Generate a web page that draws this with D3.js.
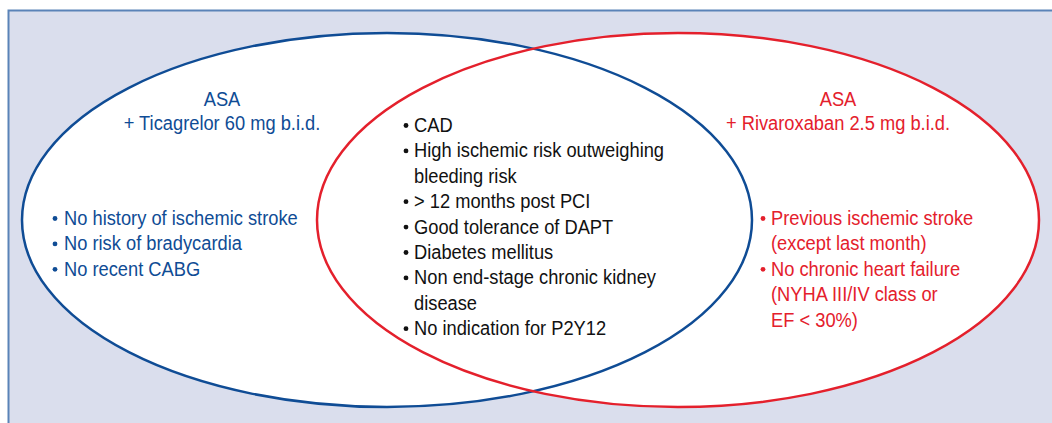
<!DOCTYPE html>
<html>
<head>
<meta charset="utf-8">
<script src="https://cdn.jsdelivr.net/npm/d3@7"></script>
<style>
  html, body { margin: 0; padding: 0; background: #fff; }
  svg text { font-family: "Liberation Sans", Arial, sans-serif; }
</style>
</head>
<body>
<div id="chart"></div>
<script>
// chart content
var leftTitle = ["ASA", "+ Ticagrelor 60 mg b.i.d."];
var rightTitle = ["ASA", "+ Rivaroxaban 2.5 mg b.i.d."];

var leftItems = [
  ["No history of ischemic stroke"],
  ["No risk of bradycardia"],
  ["No recent CABG"]
];

var centerItems = [
  ["CAD"],
  ["High ischemic risk outweighing", "bleeding risk"],
  ["> 12 months post PCI"],
  ["Good tolerance of DAPT"],
  ["Diabetes mellitus"],
  ["Non end-stage chronic kidney", "disease"],
  ["No indication for P2Y12"]
];

var rightItems = [
  ["Previous ischemic stroke", "(except last month)"],
  ["No chronic heart failure", "(NYHA III/IV class or", "EF < 30%)"]
];

var width = 1052, height = 423;
var blue = "#0f4c95", red = "#e4202c";
// no condensed face installed: squeeze the sans horizontally
var fontSize = 20, squeeze = 0.915, lineH = 25.4;

var svg = d3.select("#chart").append("svg")
    .attr("width", width)
    .attr("height", height);

// panel background
svg.append("rect")
    .attr("x", 8.5)
    .attr("y", 10.5)
    .attr("width", width + 20)
    .attr("height", height + 20)
    .attr("fill", "#dadeed")
    .attr("stroke", "#5a83b8")
    .attr("stroke-width", 2);

var sets = [
  {cx: 387, cy: 220, rx: 365, ry: 187, color: blue},
  {cx: 678, cy: 220, rx: 361, ry: 187, color: red}
];

// white fills first, outlines on top
svg.selectAll("ellipse.fill")
    .data(sets)
    .enter().append("ellipse")
    .attr("class", "fill")
    .attr("cx", function (d) { return d.cx; })
    .attr("cy", function (d) { return d.cy; })
    .attr("rx", function (d) { return d.rx; })
    .attr("ry", function (d) { return d.ry; })
    .attr("fill", "#fff");

svg.selectAll("ellipse.outline")
    .data(sets)
    .enter().append("ellipse")
    .attr("class", "outline")
    .attr("cx", function (d) { return d.cx; })
    .attr("cy", function (d) { return d.cy; })
    .attr("rx", function (d) { return d.rx; })
    .attr("ry", function (d) { return d.ry; })
    .attr("fill", "none")
    .attr("stroke", function (d) { return d.color; })
    .attr("stroke-width", 2.5);

function title(lines, x, y, color) {
  svg.append("g").selectAll("text")
      .data(lines)
      .enter().append("text")
      .attr("transform", function (d, i) {
        return "translate(" + x + "," + (y + i * 24) + ") scale(" + squeeze + ",1)";
      })
      .attr("text-anchor", "middle")
      .attr("fill", color)
      .style("font-size", fontSize + "px")
      .text(function (d) { return d; });
}

function bulletList(items, bx, tx, y0, color) {
  var rows = [];
  items.forEach(function (item) {
    item.forEach(function (line, j) {
      rows.push({text: line, first: j === 0});
    });
  });
  var g = svg.append("g");
  var row = g.selectAll("g")
      .data(rows)
      .enter().append("g")
      .attr("transform", function (d, i) {
        return "translate(0," + (y0 + i * lineH) + ")";
      });
  row.filter(function (d) { return d.first; })
      .append("circle")
      .attr("cx", bx)
      .attr("cy", -6.5)
      .attr("r", 2.4)
      .attr("fill", color);
  row.append("text")
      .attr("transform", "translate(" + tx + ",0) scale(" + squeeze + ",1)")
      .attr("fill", color)
      .style("font-size", fontSize + "px")
      .text(function (d) { return d.text; });
}

title(leftTitle, 222, 106, blue);
title(rightTitle, 838, 106, red);

bulletList(leftItems, 55, 64, 225, blue);
bulletList(centerItems, 406, 414, 132, "#111");
bulletList(rightItems, 763, 771, 225, red);
</script>
</body>
</html>
